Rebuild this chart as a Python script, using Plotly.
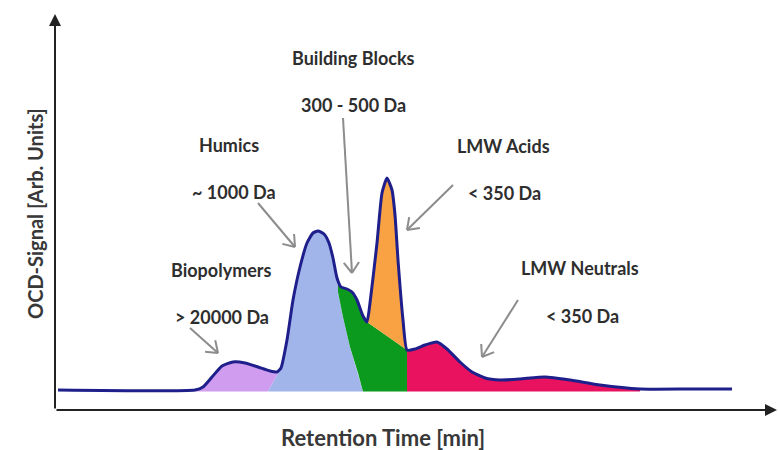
import numpy as np
import plotly.graph_objects as go

# ---- data (retention time in arbitrary minutes, OCD signal in arbitrary units) ----
time = [0.3, 14.0, 14.8, 15.7, 16.7, 17.8, 19.0, 20.3, 21.5, 22.2, 22.6, 23.2, 23.8,
        24.5, 25.2, 25.8, 26.3, 26.9, 27.4, 27.8, 28.2, 28.6, 29.2, 29.7, 30.2, 30.8,
        31.2, 31.5, 32.2, 32.7, 33.2, 33.7, 34.0, 34.3, 34.8, 35.2, 36.0, 37.0, 38.2,
        39.2, 40.5, 41.7, 43.0, 44.5, 46.5, 49.0, 51.5, 54.5, 58.5, 63.5, 67.7]
signal = [0.0, 0.0, 0.3, 1.3, 2.4, 2.8, 2.7, 2.3, 1.9, 1.8, 2.2, 5.0, 9.0,
          12.3, 14.7, 15.7, 15.9, 15.6, 14.7, 13.2, 11.2, 10.3, 10.1, 9.8, 9.0, 7.4,
          6.8, 8.7, 14.7, 19.7, 21.2, 20.0, 17.5, 13.0, 7.0, 4.0, 4.1, 4.5, 4.8,
          4.1, 2.8, 1.8, 1.2, 1.0, 1.1, 1.3, 1.0, 0.5, 0.1, 0.1, 0.1]

fractions = ["Biopolymers", "Humics", "Building Blocks", "LMW Acids", "LMW Neutrals"]
mass_labels = ["> 20000 Da", "~ 1000 Da", "300 - 500 Da", "< 350 Da", "< 350 Da"]
fraction_colors = ["#cf9cf0", "#a2b5ea", "#0b9a1d", "#f8a244", "#e8125f"]

# fraction boundaries (retention time)
bio_start, bio_end_base, bio_end_top = 14.0, 21.3, 22.6
bb_boundary_t = [28.3, 28.8, 29.5, 30.3, 30.8]
bb_boundary_s = [9.8, 7.3, 4.3, 1.7, 0.0]
acid_start, acid_end = 31.2, 35.2
neutral_end = 58.5
base = -0.15

t_arr = np.array(time)
s_arr = np.array(signal)


def curve_between(a, b, n=60):
    tt = np.unique(np.concatenate([np.linspace(a, b, n), t_arr[(t_arr > a) & (t_arr < b)]]))
    return list(tt), list(np.interp(tt, t_arr, s_arr))


fig = go.Figure()

# Biopolymers
ct, cs = curve_between(bio_start, bio_end_top)
px_ = ct + [bio_end_base, bio_start]
py_ = cs + [base, base]
fig.add_trace(go.Scatter(x=px_, y=py_, fill="toself", fillcolor=fraction_colors[0],
                         line=dict(width=0), mode="lines", hoverinfo="skip"))

# Humics
ct, cs = curve_between(bio_end_top, bb_boundary_t[0])
px_ = [bio_end_base] + ct + bb_boundary_t + [bio_end_base]
py_ = [base] + cs + bb_boundary_s[:-1] + [base, base]
fig.add_trace(go.Scatter(x=px_, y=py_, fill="toself", fillcolor=fraction_colors[1],
                         line=dict(width=0), mode="lines", hoverinfo="skip"))

# Building blocks
ct, cs = curve_between(bb_boundary_t[0], acid_start)
s_acid_start = float(np.interp(acid_start, t_arr, s_arr))
s_acid_end = float(np.interp(acid_end, t_arr, s_arr))
px_ = bb_boundary_t[::-1] + ct + [acid_start, acid_end, acid_end]
py_ = [base] + bb_boundary_s[::-1][1:] + cs + [s_acid_start, s_acid_end, base]
fig.add_trace(go.Scatter(x=px_, y=py_, fill="toself", fillcolor=fraction_colors[2],
                         line=dict(width=0), mode="lines", hoverinfo="skip"))

# LMW acids
ct, cs = curve_between(acid_start, acid_end)
px_ = ct + [acid_end, acid_start]
py_ = cs + [s_acid_end, s_acid_start]
fig.add_trace(go.Scatter(x=px_, y=py_, fill="toself", fillcolor=fraction_colors[3],
                         line=dict(width=0), mode="lines", hoverinfo="skip"))

# LMW neutrals
ct, cs = curve_between(acid_end, neutral_end)
px_ = [acid_end] + ct + [neutral_end, acid_end]
py_ = [base] + cs + [base, base]
fig.add_trace(go.Scatter(x=px_, y=py_, fill="toself", fillcolor=fraction_colors[4],
                         line=dict(width=0), mode="lines", hoverinfo="skip"))

# outline
fig.add_trace(go.Scatter(x=time, y=signal, mode="lines",
                         line=dict(color="#1f1f8c", width=3, shape="spline", smoothing=0.5),
                         hoverinfo="skip"))

# ---- annotations: labels and pointer arrows ----
label_pos = [(16.6, 12.0), (17.4, 24.5), (29.8, 33.2), (44.8, 24.4), (52.5, 12.2)]
mass_pos = [(16.7, 7.3), (17.9, 19.8), (29.8, 28.5), (44.9, 19.7), (52.7, 7.4)]
arrow_from = [(13.5, 6.2), (20.3, 18.7), (28.8, 27.2), (39.8, 20.5), (46.3, 9.0)]
arrow_to = [(16.3, 3.7), (24.0, 14.3), (29.7, 11.7), (35.2, 16.0), (42.7, 3.3)]

font_lab = dict(family="Lato, 'Open Sans', sans-serif", size=18, color="#2e2e2e")
for name, (lx, ly), ml, (mx, my) in zip(fractions, label_pos, mass_labels, mass_pos):
    fig.add_annotation(x=lx, y=ly, text=f"<b>{name}</b>", showarrow=False, font=font_lab)
    fig.add_annotation(x=mx, y=my, text=f"<b>{ml}</b>", showarrow=False, font=font_lab)

arrow_color = "#8c8c8c"
for (x0, y0), (x1, y1) in zip(arrow_from, arrow_to):
    ang = np.arctan2(y1 - y0, x1 - x0)
    hl = 1.3
    hx = []
    hy = []
    for d in (np.pi * 0.8, -np.pi * 0.8):
        hx += [x1 + hl * np.cos(ang + d), x1, None]
        hy += [y1 + hl * np.sin(ang + d), y1, None]
    fig.add_trace(go.Scatter(x=[x0, x1, None] + hx, y=[y0, y1, None] + hy, mode="lines",
                             line=dict(color=arrow_color, width=2), hoverinfo="skip"))

# axes with arrow heads
axis_color = "#222222"
fig.add_annotation(x=72.2, y=-2.0, ax=0.0, ay=-2.0, xref="x", yref="y", axref="x", ayref="y",
                   showarrow=True, arrowhead=2, arrowsize=1.2, arrowwidth=2, arrowcolor=axis_color,
                   text="")
fig.add_annotation(x=0.0, y=37.6, ax=0.0, ay=-2.0, xref="x", yref="y", axref="x", ayref="y",
                   showarrow=True, arrowhead=2, arrowsize=1.2, arrowwidth=2, arrowcolor=axis_color,
                   text="")

title_font = dict(family="Lato, 'Open Sans', sans-serif", size=20, color="#383838")
fig.add_annotation(x=32.8, y=-4.7, text="<b>Retention Time [min]</b>", showarrow=False,
                   font=dict(family="Lato, 'Open Sans', sans-serif", size=22, color="#383838"))
fig.add_annotation(x=-2.0, y=17.6, text="<b>OCD-Signal [Arb. Units]</b>", showarrow=False,
                   textangle=-90, font=title_font)

fig.update_layout(
    width=778, height=450,
    margin=dict(l=0, r=0, t=0, b=0),
    paper_bgcolor="white", plot_bgcolor="white",
    showlegend=False,
    xaxis=dict(range=[-5.5, 72.3], visible=False, fixedrange=True),
    yaxis=dict(range=[-6, 39], visible=False, fixedrange=True),
)

# remove the default page margin so the figure fills the window exactly
fig.write_html("out.html",
               config={"displayModeBar": False},
               post_script="document.body.style.margin='0px';document.body.style.overflow='hidden';")
